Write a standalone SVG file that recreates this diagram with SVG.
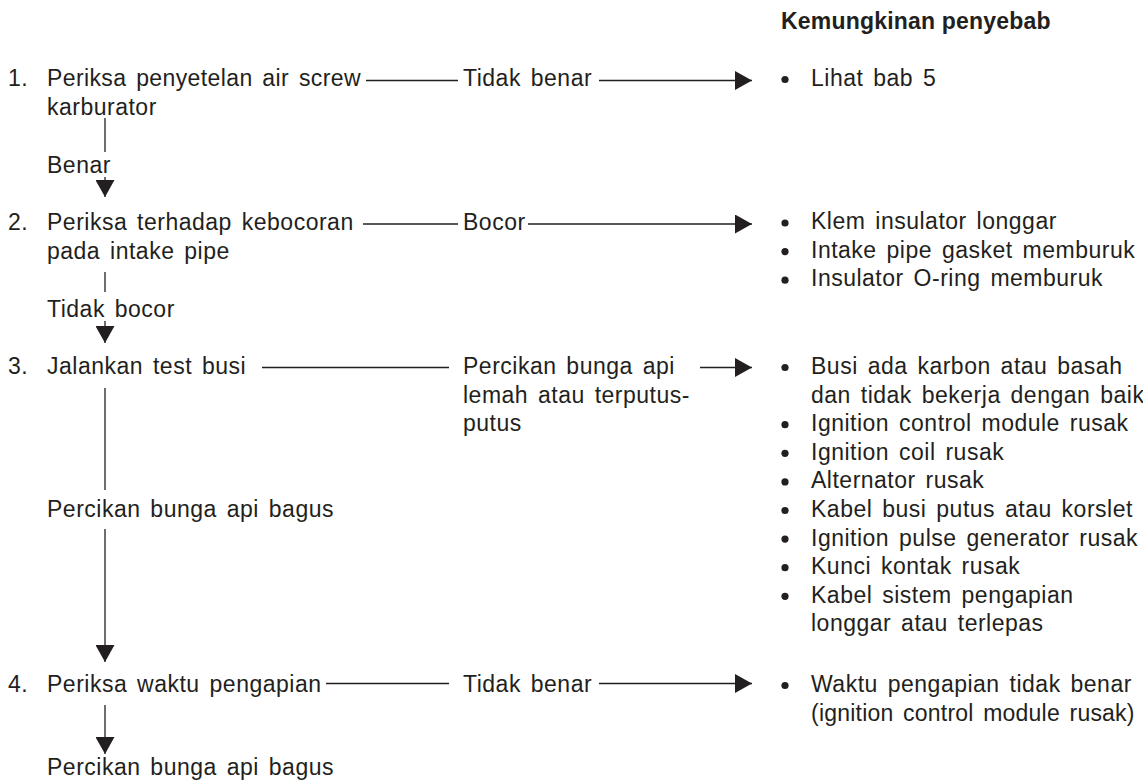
<svg xmlns="http://www.w3.org/2000/svg" width="1143" height="782" viewBox="0 0 1143 782">
<style>
text{font-family:"Liberation Sans",Arial,Helvetica,sans-serif;font-size:23px;fill:#231f20;letter-spacing:0.5px;word-spacing:3px}
.hd{font-weight:bold;letter-spacing:0.2px;word-spacing:0}
.ln{stroke:#231f20;stroke-width:1.3;fill:none}
.ar{marker-end:url(#ah)}
.bl{fill:#231f20}
</style>
<defs>
<marker id="ah" markerUnits="userSpaceOnUse" markerWidth="17" markerHeight="19" refX="17" refY="9.5" orient="auto">
<path d="M0,0 L17,9.5 L0,19 Z" fill="#231f20"/>
</marker>
</defs>
<rect width="1143" height="782" fill="#fff"/>

<g id="header"><text class="hd" x="781" y="29">Kemungkinan penyebab</text></g>

<g id="step1">
<text x="8" y="86">1.</text>
<text x="47" y="86" textLength="314" lengthAdjust="spacing">Periksa penyetelan air screw</text>
<text x="47" y="115">karburator</text>
</g>
<g id="step2">
<text x="8" y="230">2.</text>
<text x="47" y="230">Periksa terhadap kebocoran</text>
<text x="47" y="259">pada intake pipe</text>
</g>
<g id="step3">
<text x="8" y="374">3.</text>
<text x="47" y="374">Jalankan test busi</text>
</g>
<g id="step4">
<text x="8" y="692">4.</text>
<text x="47" y="692">Periksa waktu pengapian</text>
</g>
<g id="end"><text x="47" y="775">Percikan bunga api bagus</text></g>

<g id="cause1">
<circle class="bl" cx="785" cy="79.5" r="3.6"/>
<text x="811" y="86">Lihat bab 5</text>
</g>
<g id="cause2">
<circle class="bl" cx="785" cy="223" r="3.6"/>
<text x="811" y="229">Klem insulator longgar</text>
<circle class="bl" cx="785" cy="251.6" r="3.6"/>
<text x="811" y="257.6">Intake pipe gasket memburuk</text>
<circle class="bl" cx="785" cy="280.2" r="3.6"/>
<text x="811" y="286.2">Insulator O-ring memburuk</text>
</g>
<g id="cause3">
<circle class="bl" cx="785" cy="367.5" r="3.6"/>
<text x="811" y="374">Busi ada karbon atau basah</text>
<text x="811" y="402.6">dan tidak bekerja dengan baik</text>
<circle class="bl" cx="785" cy="424.7" r="3.6"/>
<text x="811" y="431.2">Ignition control module rusak</text>
<circle class="bl" cx="785" cy="453.3" r="3.6"/>
<text x="811" y="459.8">Ignition coil rusak</text>
<circle class="bl" cx="785" cy="481.9" r="3.6"/>
<text x="811" y="488.4">Alternator rusak</text>
<circle class="bl" cx="785" cy="510.5" r="3.6"/>
<text x="811" y="517">Kabel busi putus atau korslet</text>
<circle class="bl" cx="785" cy="539.1" r="3.6"/>
<text x="811" y="545.6">Ignition pulse generator rusak</text>
<circle class="bl" cx="785" cy="567.7" r="3.6"/>
<text x="811" y="574.2">Kunci kontak rusak</text>
<circle class="bl" cx="785" cy="596.3" r="3.6"/>
<text x="811" y="602.8">Kabel sistem pengapian</text>
<text x="811" y="631.4">longgar atau terlepas</text>
</g>
<g id="cause4">
<circle class="bl" cx="785" cy="685.5" r="3.6"/>
<text x="811" y="692">Waktu pengapian tidak benar</text>
<text x="811" y="720.6" textLength="324" lengthAdjust="spacing">(ignition control module rusak)</text>
</g>

<g id="connectors">
<line class="ln" x1="366" y1="80.5" x2="458" y2="80.5"/>
<text x="463" y="86">Tidak benar</text>
<line class="ln ar" x1="599" y1="80.5" x2="752" y2="80.5"/>

<line class="ln" x1="363" y1="224" x2="458" y2="224"/>
<text x="463" y="230">Bocor</text>
<line class="ln ar" x1="528" y1="224" x2="752" y2="224"/>

<line class="ln" x1="262" y1="367.5" x2="449" y2="367.5"/>
<text x="463" y="374">Percikan bunga api</text>
<text x="463" y="402.6">lemah atau terputus-</text>
<text x="463" y="431">putus</text>
<line class="ln ar" x1="700" y1="367.5" x2="752" y2="367.5"/>

<line class="ln" x1="326" y1="683.5" x2="449" y2="683.5"/>
<text x="463" y="692">Tidak benar</text>
<line class="ln ar" x1="599" y1="683.5" x2="752" y2="683.5"/>

<line class="ln" x1="105" y1="118" x2="105" y2="152"/>
<text x="47" y="173">Benar</text>
<line class="ln ar" x1="105" y1="177" x2="105" y2="197"/>

<line class="ln" x1="105" y1="272" x2="105" y2="292"/>
<text x="47" y="317">Tidak bocor</text>
<line class="ln ar" x1="105" y1="321" x2="105" y2="343"/>

<line class="ln" x1="105" y1="388" x2="105" y2="490"/>
<text x="47" y="517">Percikan bunga api bagus</text>
<line class="ln ar" x1="105" y1="529" x2="105" y2="662"/>

<line class="ln ar" x1="105" y1="705" x2="105" y2="754"/>
</g>
</svg>
